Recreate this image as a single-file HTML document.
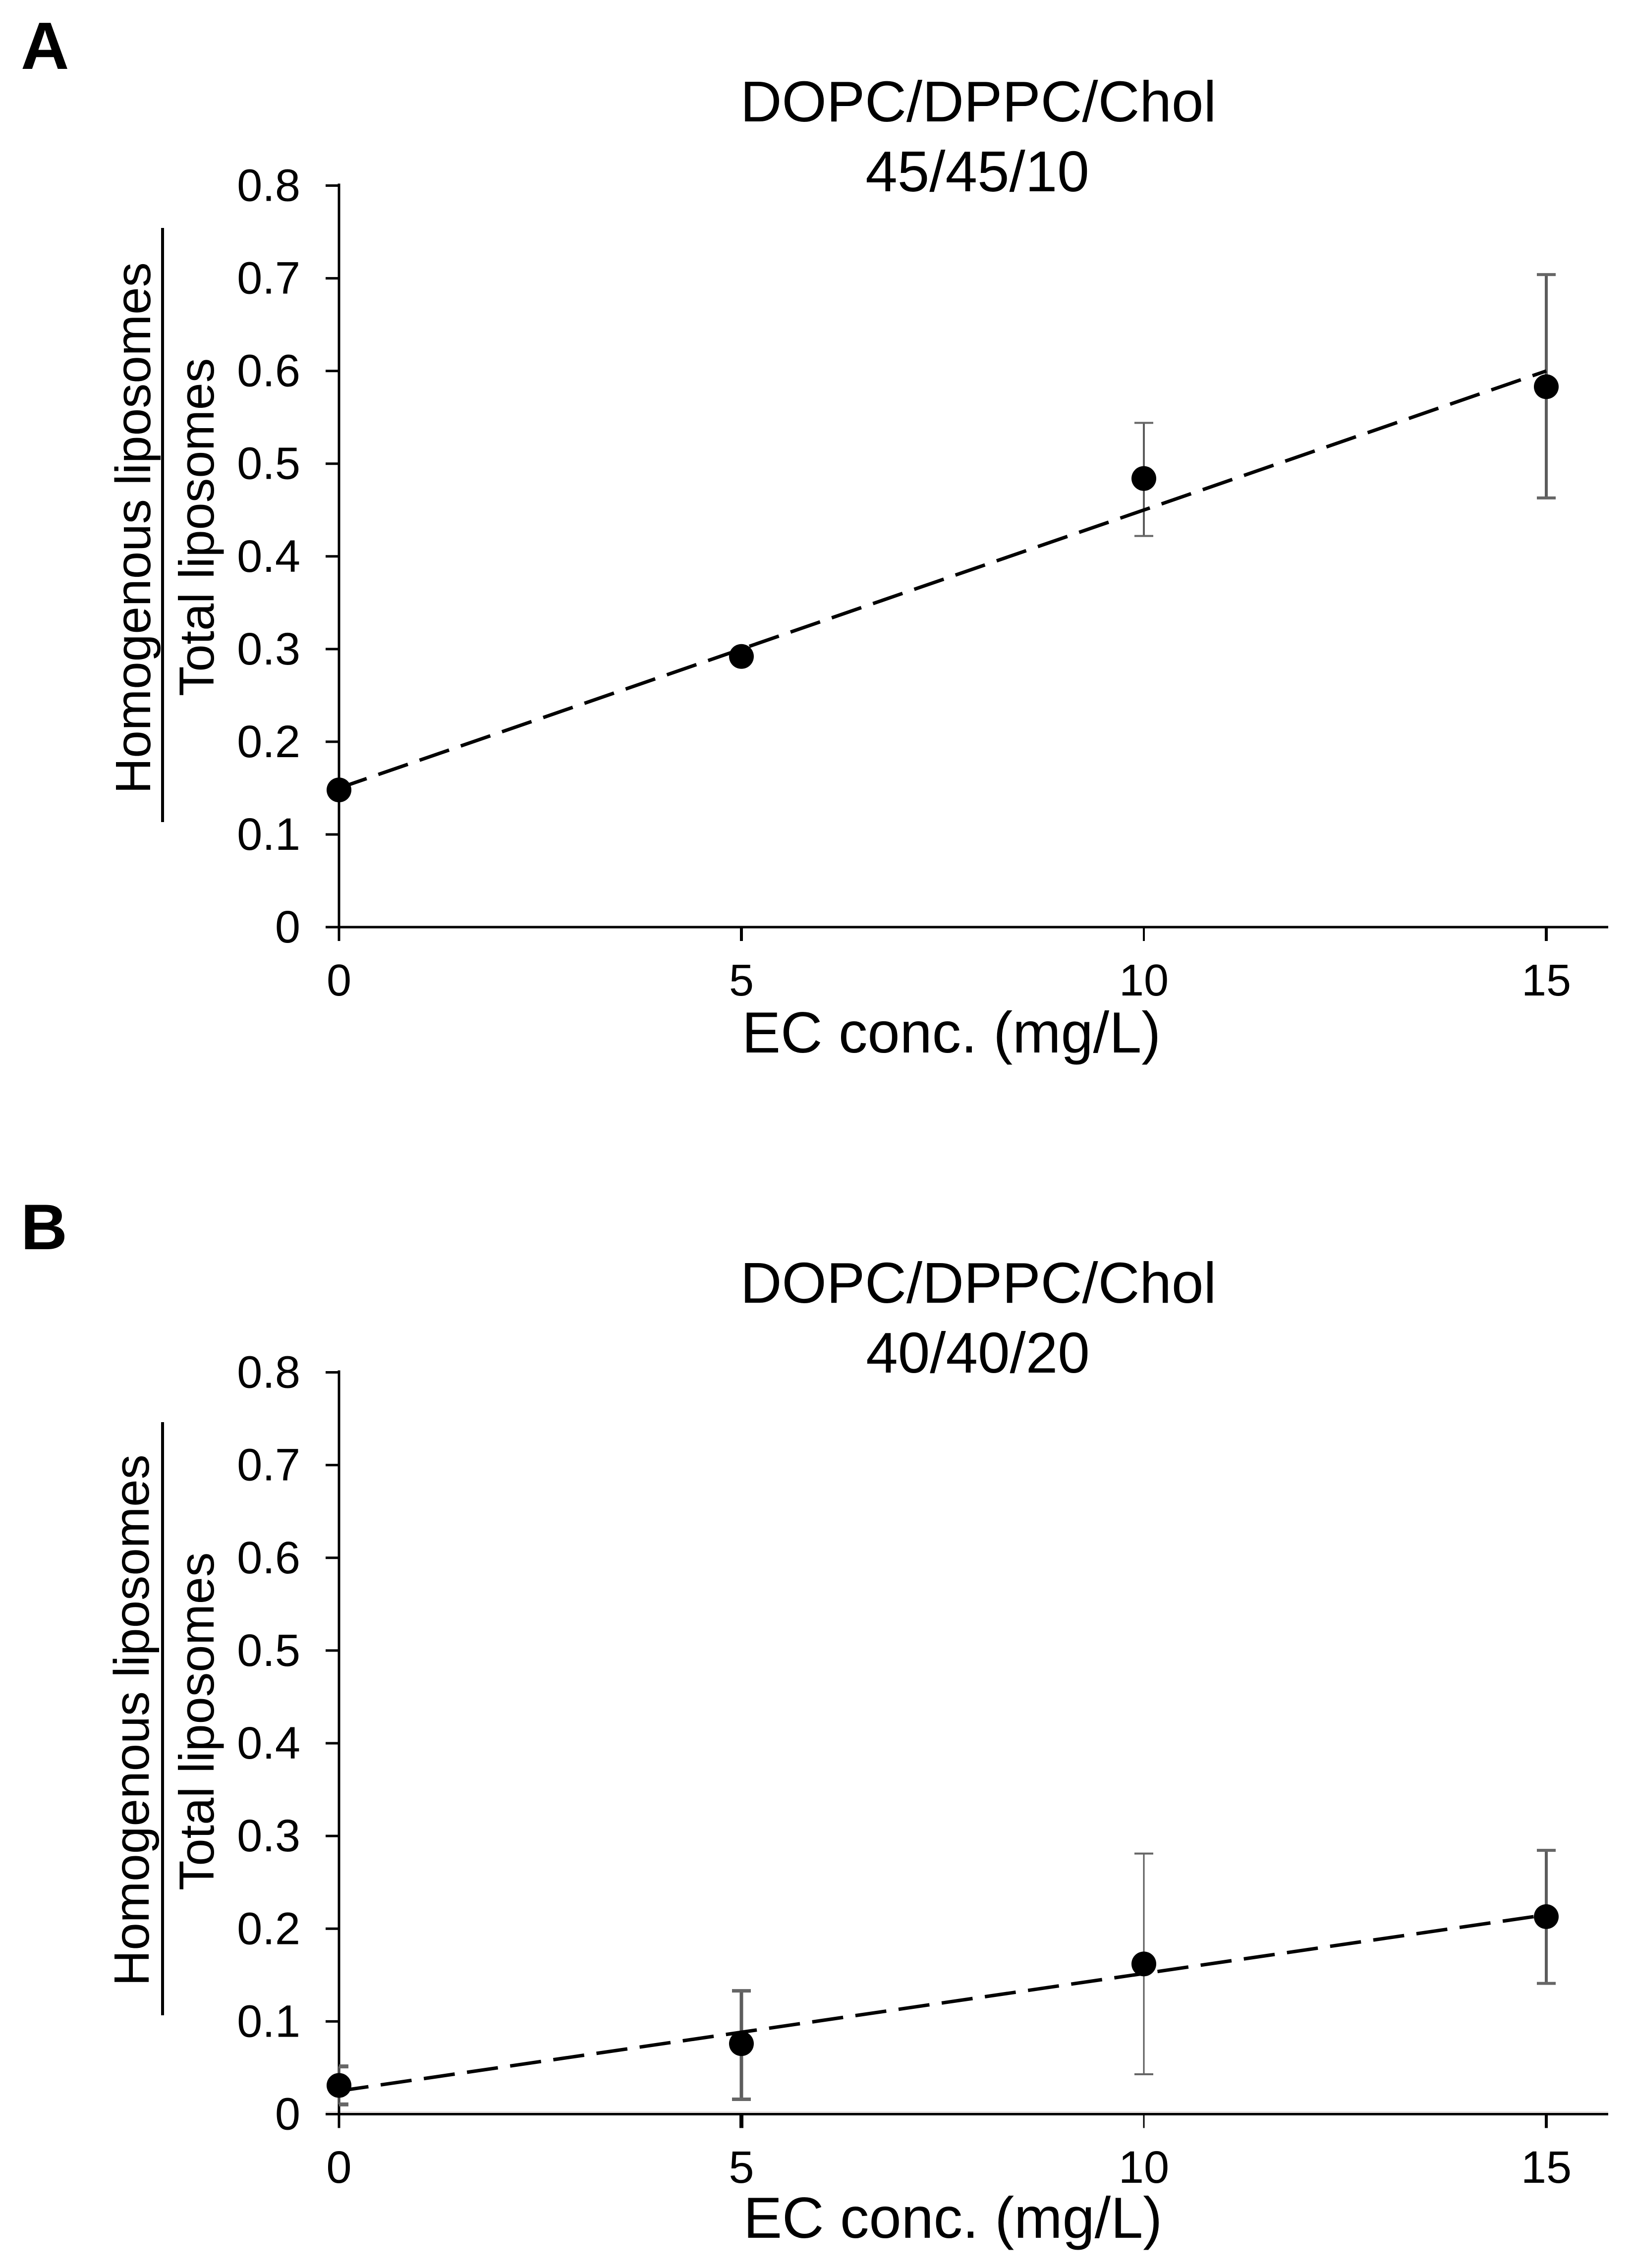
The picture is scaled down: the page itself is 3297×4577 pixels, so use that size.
<!DOCTYPE html>
<html lang="en">
<head>
<meta charset="utf-8">
<title>Homogenous liposome fraction vs EC concentration</title>
<style>
html,body{margin:0;padding:0;background:#fff;}
svg{display:block;}
text{font-family:"Liberation Sans",Arial,sans-serif;fill:#000;}
</style>
</head>
<body>
<svg id="figure" xmlns="http://www.w3.org/2000/svg" width="3297" height="4577" viewBox="0 0 3297 4577">
  <rect x="0" y="0" width="3297" height="4577" fill="#fff"/>

  <g id="panel-a">
    <text x="42" y="139" font-size="135" font-weight="bold">A</text>
    <text x="1974" y="245" font-size="116" text-anchor="middle">DOPC/DPPC/Chol</text>
    <text x="1972" y="386" font-size="116" text-anchor="middle">45/45/10</text>
    <text transform="translate(303 1602) rotate(-90)" font-size="100">Homogenous liposomes</text>
    <rect x="325" y="460" width="6" height="1199" fill="#000"/>
    <text transform="translate(431 1405) rotate(-90)" font-size="99">Total liposomes</text>
    <text x="1497" y="2124" font-size="117">EC conc. (mg/L)</text>
  </g>

  <g id="panel-b">
    <text x="42" y="2521" font-size="130" font-weight="bold">B</text>
    <text x="1974" y="2629" font-size="116" text-anchor="middle">DOPC/DPPC/Chol</text>
    <text x="1973" y="2770" font-size="116" text-anchor="middle">40/40/20</text>
    <text transform="translate(300 4008) rotate(-90)" font-size="100">Homogenous liposomes</text>
    <rect x="325" y="2870" width="6" height="1197" fill="#000"/>
    <text transform="translate(431 3815) rotate(-90)" font-size="99">Total liposomes</text>
    <text x="1500" y="4516" font-size="117">EC conc. (mg/L)</text>
  </g>
</svg>

<script>
// ---- chart data ----
const concentrations = [0, 5, 10, 15];
const xTickLabels = ['0', '5', '10', '15'];
const yTickValues = [0, 0.1, 0.2, 0.3, 0.4, 0.5, 0.6, 0.7, 0.8];
const yTickLabels = ['0', '0.1', '0.2', '0.3', '0.4', '0.5', '0.6', '0.7', '0.8'];

const meanA = [0.148, 0.292, 0.484, 0.583];
const upperA = [0.153, 0.297, 0.544, 0.704];
const lowerA = [0.143, 0.287, 0.422, 0.463];
const trendEndsA = [0.15, 0.60];

const meanB = [0.031, 0.076, 0.162, 0.213];
const upperB = [0.0515, 0.133, 0.281, 0.2845];
const lowerB = [0.0105, 0.016, 0.043, 0.141];
const trendEndsB = [0.025, 0.215];

const trendDomain = [0, 15];

// ---- drawing styles (not data) ----
const errorStrokeA = [3, 3, 4, 6];
const errorStrokeB = [3, 7, 3, 6];
const capStrokeA = [4, 4, 4, 6];
const capStrokeB = [8, 7, 4, 6];
const xTickStrokeA = [5, 6, 4, 6];
const xTickStrokeB = [5, 8, 3, 6];

const SVG_NS = 'http://www.w3.org/2000/svg';
const plotLeft = 684;
const plotRight = 3245;
const pxPerConc = 162.4;

function xScale(v) { return plotLeft + v * pxPerConc; }
function makeYScale(zeroPx, topPx) {
  return function (v) { return zeroPx + (topPx - zeroPx) * (v / 0.8); };
}
function shape(parent, tag, props) {
  const el = document.createElementNS(SVG_NS, tag);
  Object.keys(props).forEach(function (k) { el.setAttribute(k, props[k]); });
  parent.appendChild(el);
  return el;
}

function drawPanel(opts) {
  const g = document.getElementById(opts.groupId);
  const yScale = makeYScale(opts.zeroPx, opts.topPx);
  const prefix = opts.prefix;

  if (opts.axisHalo) {
    const halo = shape(g, 'rect', { x: 657, y: opts.zeroPx - 6, width: plotRight - 657, height: 3, fill: '#e8e2e2' });
    
    
  }

  const yAxis = shape(g, 'line', { x1: plotLeft, x2: plotLeft, y1: opts.topPx - 4, y2: opts.zeroPx + 28, stroke: '#000', 'stroke-width': 5 });
  
  

  const xAxis = shape(g, 'line', { x1: 657, x2: plotRight, y1: opts.zeroPx, y2: opts.zeroPx, stroke: '#000', 'stroke-width': 5 });
  
  

  yTickValues.forEach(function (v, i) {
    const tick = shape(g, 'line', { x1: 657, x2: plotLeft, y1: yScale(v), y2: yScale(v), stroke: '#000', 'stroke-width': 5 });
    
    
    const label = shape(g, 'text', { x: 606, y: yScale(v) + 31, 'font-size': 92, 'text-anchor': 'end' });
    label.textContent = yTickLabels[i];
    
    
  });

  concentrations.forEach(function (c, i) {
    const tick = shape(g, 'line', { x1: xScale(c), x2: xScale(c), y1: opts.zeroPx, y2: opts.zeroPx + 28, stroke: '#000', 'stroke-width': opts.xTickStroke[i] });
    
    
    const label = shape(g, 'text', { x: xScale(c), y: opts.xLabelBaseline, 'font-size': opts.xLabelSize, 'text-anchor': 'middle' });
    label.textContent = xTickLabels[i];
    
    
  });

  concentrations.forEach(function (c, i) {
    const x = xScale(c);
    const stem = shape(g, 'line', { x1: x, x2: x, y1: yScale(opts.upper[i]), y2: yScale(opts.lower[i]), stroke: '#5c5c5c', 'stroke-width': opts.errorStroke[i] });
    
    
    const capLeft = Math.max(x - 19, plotLeft);
    const capTop = shape(g, 'line', { x1: capLeft, x2: x + 19, y1: yScale(opts.upper[i]), y2: yScale(opts.upper[i]), stroke: '#666', 'stroke-width': opts.capStroke[i] });
    
    
    const capBottom = shape(g, 'line', { x1: capLeft, x2: x + 19, y1: yScale(opts.lower[i]), y2: yScale(opts.lower[i]), stroke: '#666', 'stroke-width': opts.capStroke[i] });
    
    
  });

  const trend = shape(g, 'line', {
    x1: xScale(trendDomain[0]), y1: yScale(opts.trend[0]),
    x2: xScale(trendDomain[1]), y2: yScale(opts.trend[1]),
    stroke: '#000', 'stroke-width': 7,
    'stroke-dasharray': '63 25', 'stroke-dashoffset': opts.dashOffset
  });
  
  

  concentrations.forEach(function (c, i) {
    const dot = shape(g, 'circle', { cx: xScale(c), cy: yScale(opts.mean[i]), r: 25, fill: '#000' });
    
    
  });
}

drawPanel({
  groupId: 'panel-a', prefix: 'panel-a',
  zeroPx: 1871, topPx: 374.5,
  xLabelBaseline: 2009, xLabelSize: 90,
  mean: meanA, upper: upperA, lower: lowerA, trend: trendEndsA,
  errorStroke: errorStrokeA, capStroke: capStrokeA, xTickStroke: xTickStrokeA,
  dashOffset: 4, axisHalo: false
});
drawPanel({
  groupId: 'panel-b', prefix: 'panel-b',
  zeroPx: 4266.5, topPx: 2769.5,
  xLabelBaseline: 4405, xLabelSize: 92,
  mean: meanB, upper: upperB, lower: lowerB, trend: trendEndsB,
  errorStroke: errorStrokeB, capStroke: capStrokeB, xTickStroke: xTickStrokeB,
  dashOffset: 3, axisHalo: true
});
</script>
</body>
</html>
